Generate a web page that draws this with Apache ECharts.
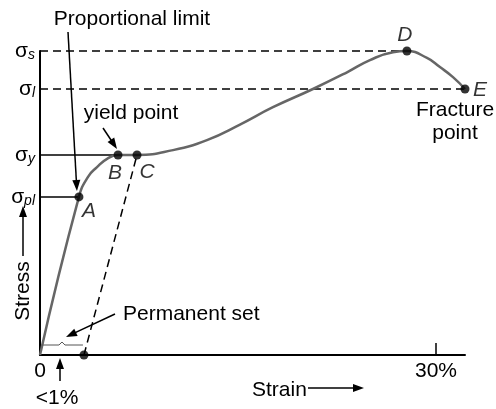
<!DOCTYPE html>
<html>
<head>
<meta charset="utf-8">
<script src="https://cdn.jsdelivr.net/npm/echarts@6/dist/echarts.min.js"></script>
<style>
html, body { margin: 0; padding: 0; background: #fff; }
#chart { width: 496px; height: 409px; }
</style>
</head>
<body>
<div id="chart"></div>
<script>
// stress-strain curve (strain in %, stress in % of sigma_s)
var curveStrain = [0, 2.95, 3.64, 4.32, 5.08, 5.91, 7.35, 10.08, 12.65, 15.15, 17.65, 20.68, 23.26, 25.00, 26.74, 27.80, 29.32, 30.30, 31.29, 32.20];
var curveStress = [0, 52.0, 58.6, 61.8, 64.5, 65.8, 65.8, 67.4, 70.7, 75.8, 81.5, 87.5, 93.0, 97.0, 99.6, 100, 97.7, 94.7, 91.4, 87.5];

// named points on the curve
var pointNames = ['A', 'B', 'C', 'D', 'E'];
var pointStrain = [2.95, 5.91, 7.35, 27.80, 32.20];
var pointStress = [52.0, 65.8, 65.8, 100, 87.5];

// stress levels: sigma_s, sigma_l, sigma_y, sigma_pl
var levelNames = ['s', 'l', 'y', 'pl'];
var levelStress = [100, 87.5, 65.8, 52.0];
var levelEndStrain = [27.80, 32.20, 5.91, 2.95];
var levelDashed = [true, true, false, false];

var permanentSet = 3.33;
var strainTicks = [30];
var strainLabels = [0, 30];

var FONT = 'Liberation Sans, Arial, Helvetica, sans-serif';

var chart = echarts.init(document.getElementById('chart'));

var curveData = [];
for (var i = 0; i < curveStrain.length; i++) {
	curveData.push([curveStrain[i], curveStress[i]]);
}

// label offsets for A..E
var pointLabelOffset = {
	A: [10, 14], B: [-3, 18], C: [10, 17], D: [-2, -16], E: [15, 1]
};
var pointData = [];
for (var i = 0; i < pointNames.length; i++) {
	pointData.push({
		name: pointNames[i],
		value: [pointStrain[i], pointStress[i]],
		label: { offset: pointLabelOffset[pointNames[i]] }
	});
}
pointData.push({ name: '', value: [permanentSet, 0] });

var series = [];
for (var i = 0; i < levelNames.length; i++) {
	series.push({
		type: 'line',
		data: [[0, levelStress[i]], [levelEndStrain[i], levelStress[i]]],
		showSymbol: false,
		clip: false,
		silent: true,
		z: 2,
		lineStyle: {
			color: '#000',
			width: 1.5,
			type: levelDashed[i] ? [8, 5] : 'solid'
		}
	});
}
// unloading line to the permanent set
series.push({
	type: 'line',
	data: [[permanentSet, 0], [pointStrain[2], pointStress[2]]],
	showSymbol: false,
	clip: false,
	z: 2,
	lineStyle: { color: '#000', width: 1.5, type: [8, 5] }
});
series.push({
	type: 'line',
	data: curveData,
	smooth: 0.5,
	showSymbol: false,
	clip: false,
	z: 3,
	lineStyle: { color: '#666', width: 2.5 }
});
series.push({
	type: 'scatter',
	data: pointData,
	symbolSize: 9,
	clip: false,
	z: 5,
	itemStyle: { color: '#000' },
	label: {
		show: true,
		position: 'inside',
		formatter: '{b}',
		fontFamily: FONT,
		fontStyle: 'italic',
		fontSize: 21,
		color: '#000'
	}
});

var option = {
	animation: false,
	backgroundColor: '#fff',
	grid: { left: 40, right: 31, top: 51, bottom: 54 },
	xAxis: {
		type: 'value',
		min: 0,
		max: 32.2,
		axisLine: { lineStyle: { color: '#000', width: 2 } },
		axisTick: {
			show: true,
			inside: true,
			length: 12,
			customValues: strainTicks,
			lineStyle: { color: '#000', width: 1.5 }
		},
		axisLabel: {
			customValues: strainLabels,
			margin: 6,
			fontFamily: FONT,
			fontSize: 21,
			color: '#000',
			formatter: function(v) {
				return v === 0 ? '0' : v + '%';
			}
		},
		splitLine: { show: false }
	},
	yAxis: {
		type: 'value',
		min: 0,
		max: 100,
		axisLine: { show: true, lineStyle: { color: '#000', width: 2 } },
		axisTick: { show: false },
		axisLabel: {
			customValues: levelStress,
			margin: 5,
			formatter: function(v) {
				var k = levelStress.indexOf(v);
				return '{m|σ}{s|' + levelNames[k] + '}';
			},
			rich: {
				m: { fontFamily: FONT, fontSize: 21, color: '#000' },
				s: { fontFamily: FONT, fontSize: 14, fontStyle: 'italic', color: '#000', padding: [9, 0, 0, 0] }
			}
		},
		splitLine: { show: false }
	},
	series: series
};

chart.setOption(option);

// annotations
function px(x, y) {
	return chart.convertToPixel({ gridIndex: 0 }, [x, y]);
}

function arrow(x1, y1, x2, y2) {
	var dx = x2 - x1, dy = y2 - y1;
	var len = Math.sqrt(dx * dx + dy * dy);
	var ux = dx / len, uy = dy / len;
	var hl = 11, hw = 4;
	var bx = x2 - ux * hl, by = y2 - uy * hl;
	return [{
		type: 'line',
		shape: { x1: x1, y1: y1, x2: bx + ux * 2, y2: by + uy * 2 },
		style: { stroke: '#000', lineWidth: 1.5 },
		z: 10
	}, {
		type: 'polygon',
		shape: { points: [[x2, y2], [bx - uy * hw, by + ux * hw], [bx + uy * hw, by - ux * hw]] },
		style: { fill: '#000' },
		z: 10
	}];
}

function text(str, x, y, opts) {
	opts = opts || {};
	return {
		type: 'text',
		x: x,
		y: y,
		rotation: opts.rotation || 0,
		z: 10,
		style: {
			text: str,
			fontFamily: FONT,
			fontSize: opts.size || 21,
			fill: '#000',
			align: opts.align || 'center',
			verticalAlign: 'middle'
		}
	};
}

var pA = px(pointStrain[0], pointStress[0]);
var pB = px(pointStrain[1], pointStress[1]);
var pE = px(pointStrain[4], pointStress[4]);
var pO = px(0, 0);
var pSet = px(permanentSet, 0);

var g = [];
g.push(text('Proportional limit', 132, 19));
g = g.concat(arrow(68, 32, pA[0] - 2, pA[1] - 6));
g.push(text('yield point', 131, 113));
g = g.concat(arrow(103, 128, pB[0] - 1, pB[1] - 6));
g.push(text('Fracture', pE[0] - 10, pE[1] + 21));
g.push(text('point', pE[0] - 10, pE[1] + 44));
g.push(text('Permanent set', 123, 314, { align: 'left' }));
g = g.concat(arrow(115, 314, 66, 337));
g.push(text('Stress', 23, 291, { rotation: Math.PI / 2 }));
g = g.concat(arrow(23, 256, 23, 206));
g.push(text('Strain', 252, 390, { align: 'left' }));
g = g.concat(arrow(308, 388, 364, 388));
g.push(text('<1%', 57, 398));
g = g.concat(arrow(60, 381, 60, 358));

// permanent set bracket
var by = pO[1] - 10;
var mid = (pO[0] + pSet[0]) / 2;
g.push({
	type: 'polyline',
	shape: {
		points: [[pO[0] + 2, by], [mid - 3, by], [mid, by - 3], [mid + 3, by], [pSet[0] - 1, by]]
	},
	style: { stroke: '#555', lineWidth: 1, fill: null },
	z: 4
});

chart.setOption({ graphic: g });

window.onresize = function() {
	chart.resize();
};
</script>
</body>
</html>
